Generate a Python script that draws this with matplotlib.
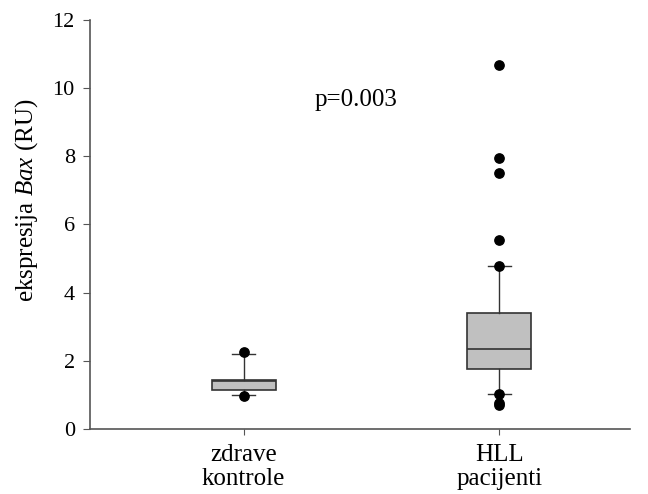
import matplotlib
matplotlib.use("Agg")
import matplotlib.pyplot as plt

plt.rcParams['font.family'] = ['Liberation Serif', 'DejaVu Serif']
plt.rcParams['mathtext.fontset'] = 'custom'
plt.rcParams['mathtext.it'] = 'Liberation Serif:italic'
plt.rcParams['mathtext.rm'] = 'Liberation Serif'

categories = ['zdrave\nkontrole', 'HLL\npacijenti']
q1 = [1.14, 1.75]
median = [1.40, 2.36]
q3 = [1.44, 3.39]
whisker_low = [0.99, 1.03]
whisker_high = [2.19, 4.78]
outliers = [[2.27, 0.98], [10.68, 7.96, 7.51, 5.55, 4.78, 1.03, 0.76, 0.70]]
p_text = 'p=0.003'

fig = plt.figure(figsize=(6.48, 4.94), dpi=100)
ax = fig.add_axes([0.139, 0.1316, 0.833, 0.828])

positions = [1, 2]
stats = []
for i in range(2):
    stats.append(dict(med=median[i], q1=q1[i], q3=q3[i],
                      whislo=whisker_low[i], whishi=whisker_high[i],
                      fliers=[], label=categories[i]))
ax.bxp(stats, positions=positions, widths=0.25, patch_artist=True,
       showfliers=False,
       boxprops=dict(facecolor='#c0c0c0', edgecolor='#333333', linewidth=1.2),
       medianprops=dict(color='#333333', linewidth=1.2),
       whiskerprops=dict(color='#333333', linewidth=1.0),
       capprops=dict(color='#333333', linewidth=1.0), capwidths=0.09)
for i, pts in enumerate(outliers):
    ax.scatter([positions[i]] * len(pts), pts, s=45, color='black', zorder=5)

ax.set_xlim(0.4, 2.51)
ax.set_ylim(0, 12)
ax.set_yticks(range(0, 13, 2))
ax.set_xticks(positions)
ax.set_xticklabels(categories, fontsize=18, linespacing=1.1)
ax.tick_params(axis='y', labelsize=16, direction='out', length=5, color='#555555', pad=6)
ax.tick_params(axis='x', direction='out', length=4, color='#555555', pad=7)
for s in ['top', 'right']:
    ax.spines[s].set_visible(False)
for s in ['left', 'bottom']:
    ax.spines[s].set_color('#555555')
    ax.spines[s].set_linewidth(1.2)
ax.set_ylabel(r'ekspresija $\mathit{Bax}$ (RU)', fontsize=18)
ax.yaxis.set_label_coords(-0.092, 0.56)
ax.text(1.44, 9.65, p_text, fontsize=18, ha='center', va='center')

fig.savefig('out.png', dpi=100)
